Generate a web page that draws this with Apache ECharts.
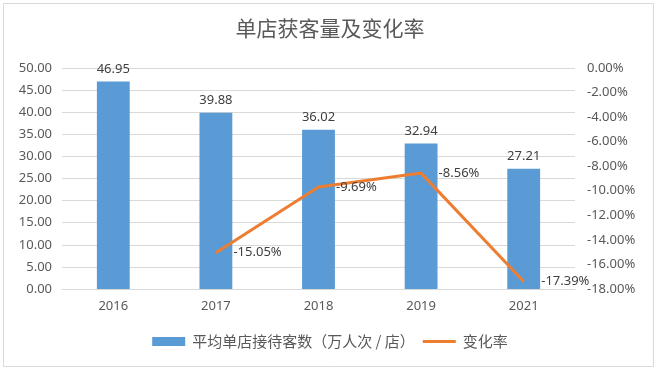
<!DOCTYPE html>
<html><head><meta charset="utf-8">
<script src="https://cdn.jsdelivr.net/npm/echarts@6/dist/echarts.min.js"></script>
<style>html,body{margin:0;padding:0;background:#fff}#c{width:660px;height:374px}</style>
</head><body><div id="c"></div>
<script>
const categories = ['2016','2017','2018','2019','2021'];
const visitors = [46.95, 39.88, 36.02, 32.94, 27.21];
const changeRate = [null, -15.05, -9.69, -8.56, -17.39];
const titleText = '单店获客量及变化率';
const barName = '平均单店接待客数（万人次 / 店）';
const lineName = '变化率';

const chart = echarts.init(document.getElementById('c'));
const latin = "'Noto Sans', 'Noto Sans CJK SC', sans-serif";
chart.setOption({
  backgroundColor: '#fff',
  animation: false,
  graphic: [{type:'rect', shape:{x:3.5,y:3.5,width:650,height:363}, style:{fill:'none', stroke:'#d9d9d9', lineWidth:1}, silent:true}],
  title: {text: titleText, left: 'center', top: 13, textStyle:{color:'#595959', fontSize:21, fontWeight:'normal', fontFamily:"'Noto Sans CJK SC', sans-serif"}},
  legend: {bottom: 20, left:'center', itemGap: 8, itemWidth: 33, itemHeight: 9, textStyle:{color:'#595959', fontSize:15, padding:[0,0,0,2], fontFamily:"'Noto Sans CJK SC', sans-serif"},
    data:[{name:barName, icon:'rect'},
          {name:lineName, icon:'path://M0,0 L0,0.01 M0,3 L33,3 L33,6 L0,6 Z M0,9 L0,8.99', itemStyle:{color:'#ED7D31', opacity:1}}]},
  grid: {left: 62, right: 85, top: 68, bottom: 85},
  xAxis: {type:'category', data: categories, axisTick:{show:false}, axisLine:{lineStyle:{color:'#d9d9d9'}},
    axisLabel:{color:'#595959', fontSize:13, margin:11, fontFamily:latin}},
  yAxis: [
    {type:'value', min:0, max:50, interval:5, axisLabel:{color:'#595959', fontSize:13, margin:10, formatter:v=>v.toFixed(2), fontFamily:latin},
      splitLine:{lineStyle:{color:'#d9d9d9'}}, axisLine:{show:false}, axisTick:{show:false}},
    {type:'value', min:-18, max:0, interval:2, axisLabel:{color:'#595959', fontSize:13, margin:12, formatter:v=>v.toFixed(2)+'%', fontFamily:latin},
      splitLine:{show:false}, axisLine:{show:false}, axisTick:{show:false}}
  ],
  series: [
    {name: barName, type:'bar', data: visitors, barWidth:'32%', itemStyle:{color:'#5B9BD5'},
      label:{show:true, position:'top', color:'#404040', fontSize:13, distance:6, fontFamily:latin, formatter:p=>p.value.toFixed(2)}},
    {name: lineName, type:'line', yAxisIndex:1, data: changeRate, showSymbol:true, symbol:'circle', symbolSize:1, connectNulls:false,
      lineStyle:{color:'#ED7D31', width:3}, itemStyle:{color:'rgba(0,0,0,0)'},
      label:{show:true, position:'right', color:'#404040', fontSize:13, distance:17, fontFamily:latin, formatter:p=>p.value.toFixed(2)+'%'}}
  ]
});
</script></body></html>
